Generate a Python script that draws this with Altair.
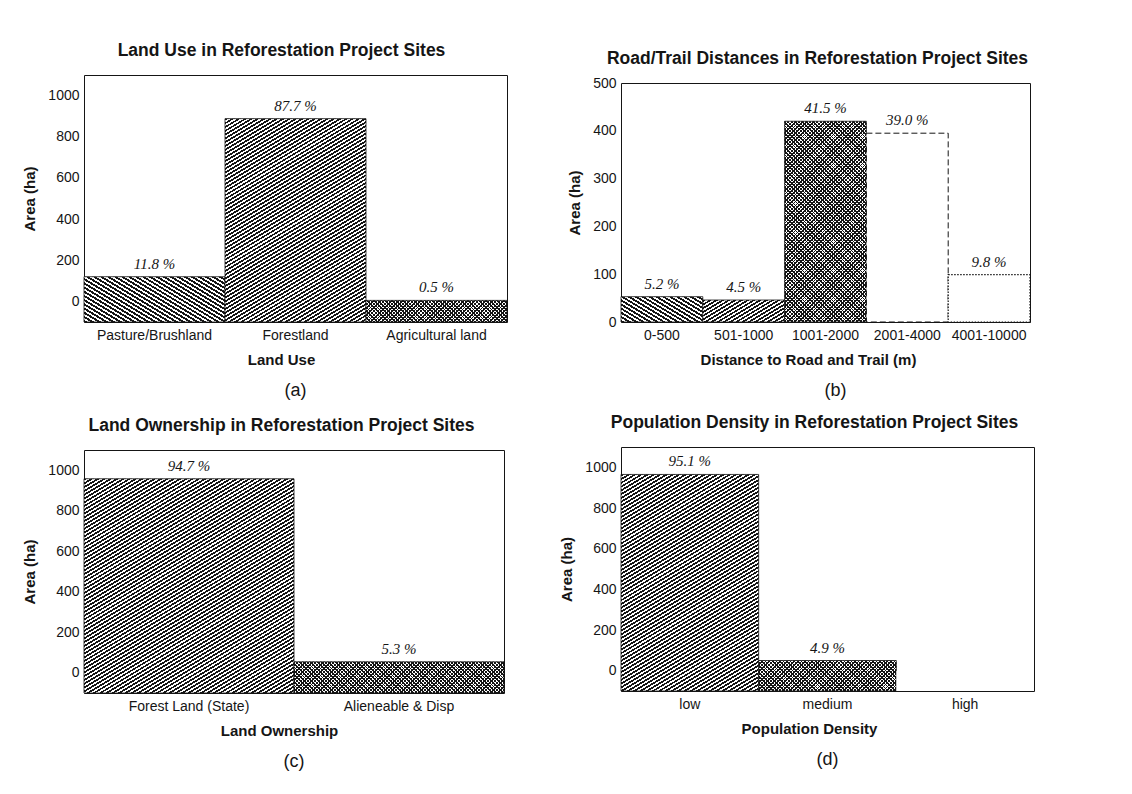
import altair as alt
import pandas as pd

SANS = "Liberation Sans"
SERIF = "Liberation Serif"
INK = "#151515"

# ---------------- data ----------------
a_cats = ["Pasture/Brushland", "Forestland", "Agricultural land"]
a_vals = [120, 888, 5]
a_pcts = ["11.8 %", "87.7 %", "0.5 %"]
a_styles = ["back", "fwd", "cross"]

b_cats = ["0-500", "501-1000", "1001-2000", "2001-4000", "4001-10000"]
b_vals = [53, 46, 420, 395, 99]
b_pcts = ["5.2 %", "4.5 %", "41.5 %", "39.0 %", "9.8 %"]
b_styles = ["back", "fwd", "cross", "dash", "dot"]

c_cats = ["Forest Land (State)", "Alieneable & Disp"]
c_vals = [958, 54]
c_pcts = ["94.7 %", "5.3 %"]
c_styles = ["fwd", "cross"]

d_cats = ["low", "medium", "high"]
d_vals = [965, 50, 0]
d_pcts = ["95.1 %", "4.9 %", ""]
d_styles = ["fwd", "cross", "none"]

ticks_1000 = [0, 200, 400, 600, 800, 1000]
ticks_500 = [0, 100, 200, 300, 400, 500]


def stripes(w, h, direction, pv, frac, m, ink=INK, paper="#ffffff"):
    """Linear gradient with hard stops that looks like a hatch pattern."""
    w = max(w, 1.0)
    h = max(h, 1.0)
    K = m * w + h
    s = K / (m * m * w * w + h * h)
    dx, dy = m * w * s, h * s
    if direction == "fwd":
        x1, y1, x2, y2 = 0, 0, dx, dy
    else:
        x1, y1, x2, y2 = 0, 1, dx, 1 - dy
    n = max(1, round(K / pv))
    stops = []
    for i in range(n):
        o0 = i / n
        o1 = (i + frac) / n
        o2 = (i + 1) / n
        stops += [
            {"offset": round(o0, 6), "color": ink},
            {"offset": round(o1, 6), "color": ink},
            {"offset": round(o1, 6), "color": paper},
            {"offset": round(o2, 6), "color": paper},
        ]
    return {"gradient": "linear", "x1": x1, "y1": y1, "x2": x2, "y2": y2, "stops": stops}


def panel(cats, vals, pcts, styles, W, H, ymin, ymax, yticks, title, title_x,
          xtitle, xtitle_x, tag, tag_dx=0, inset=0):
    """inset > 0: the frame starts `inset` px below the top of the view
    (drawn with axis domain lines instead of the view stroke)."""
    df = pd.DataFrame({"cat": cats, "value": vals, "pct": pcts})
    framed = inset > 0
    xs = alt.Scale(domain=cats, paddingInner=0, paddingOuter=0)
    if framed:
        ys = alt.Scale(domain=[ymin, ymax], nice=False, zero=False, range=[H + inset, inset])
    else:
        ys = alt.Scale(domain=[ymin, ymax], nice=False, zero=False)
    dom = dict(domain=framed, domainColor=INK, domainWidth=1)
    bottom_axis = alt.Axis(
        title=xtitle, labelAngle=0, ticks=False, grid=False,
        labelPadding=6, titlePadding=10, titleX=xtitle_x,
        labelFont=SANS, labelFontSize=14, labelColor=INK,
        titleFont=SANS, titleFontSize=15, titleFontWeight="bold", titleColor=INK, **dom,
    )
    y_axis = alt.Axis(
        title="Area (ha)", values=yticks, format="d", ticks=False, grid=False,
        labelPadding=5, titlePadding=10,
        labelFont=SANS, labelFontSize=14, labelColor=INK,
        titleFont=SANS, titleFontSize=15, titleFontWeight="bold", titleColor=INK, **dom,
    )
    top_axis = alt.Axis(
        orient="top", title=title, labels=False, ticks=False, grid=False,
        titlePadding=16, titleX=title_x, offset=-inset,
        titleFont=SANS, titleFontSize=17.5, titleFontWeight="bold", titleColor=INK, **dom,
    )
    right_axis = alt.Axis(
        orient="right", title=None, labels=False, ticks=False, grid=False, **dom,
    )
    other_y = None if framed else y_axis
    bw = W / len(cats)
    layers = []
    first = True
    for cat, val, sty in zip(cats, vals, styles):
        bh = (val - ymin) / (ymax - ymin) * H
        sub = alt.Chart(df).transform_filter(alt.datum.cat == cat)
        enc = dict(
            x=alt.X("cat:N", scale=xs, axis=bottom_axis if first else None),
            y=alt.Y("value:Q", scale=ys, axis=y_axis if first else other_y),
            y2=alt.datum(ymin),
        )
        first = False
        if sty in ("back", "fwd"):
            m = 0.6
            pv = 4.2 if sty == "back" else 3.8
            mk = sub.mark_bar(fill=stripes(bw, bh, sty, pv, 0.52, m), stroke=INK, strokeWidth=0.8)
            layers.append(mk.encode(**enc))
        elif sty == "cross":
            mk = sub.mark_bar(fill=stripes(bw, bh, "back", 3.6, 0.42, 1.0), strokeWidth=0)
            layers.append(mk.encode(**enc))
            over = alt.Chart(df).transform_filter(alt.datum.cat == cat).mark_bar(
                fill=stripes(bw, bh, "fwd", 3.6, 0.42, 1.0, paper="rgba(255,255,255,0)"),
                stroke=INK, strokeWidth=0.8,
            ).encode(
                x=alt.X("cat:N", scale=xs, axis=None),
                y=alt.Y("value:Q", scale=ys, axis=other_y),
                y2=alt.datum(ymin),
            )
            layers.append(over)
        elif sty == "dash":
            mk = sub.mark_bar(fill="#ffffff", stroke=INK, strokeWidth=1, strokeDash=[6, 3])
            layers.append(mk.encode(**enc))
        elif sty == "dot":
            mk = sub.mark_bar(fill="#ffffff", stroke=INK, strokeWidth=1.2, strokeDash=[1.5, 1.5])
            layers.append(mk.encode(**enc))
        else:
            mk = sub.mark_bar(fill="#ffffff", strokeWidth=0)
            layers.append(mk.encode(**enc))

    text = alt.Chart(df).mark_text(
        font=SERIF, fontStyle="italic", fontSize=15, dy=-8, baseline="alphabetic", color=INK,
    ).encode(
        x=alt.X("cat:N", scale=xs, axis=top_axis),
        y=alt.Y("value:Q", scale=ys, axis=right_axis if framed else y_axis),
        text="pct:N",
    )
    layers.append(text)
    props = dict(
        width=W, height=H + inset,
        title=alt.TitleParams(tag, orient="bottom", anchor="middle", frame="group",
                              font=SANS, fontSize=18, fontWeight="normal", color=INK,
                              offset=15, dx=tag_dx),
    )
    if framed:
        props["view"] = alt.ViewBackground(strokeOpacity=0)
        return alt.layer(*layers).properties(**props).resolve_axis(x="independent", y="independent")
    return alt.layer(*layers).properties(**props).resolve_axis(x="independent")


A = panel(a_cats, a_vals, a_pcts, a_styles, 423, 247, -100, 1100, ticks_1000,
          "Land Use in Reforestation Project Sites", 197, "Land Use", 197, "(a)")
B = panel(b_cats, b_vals, b_pcts, b_styles, 409, 239, 0, 500, ticks_500,
          "Road/Trail Distances in Reforestation Project Sites", 196,
          "Distance to Road and Trail (m)", 187, "(b)", 10, inset=8)
C = panel(c_cats, c_vals, c_pcts, c_styles, 420, 243, -100, 1100, ticks_1000,
          "Land Ownership in Reforestation Project Sites", 197, "Land Ownership", 195, "(c)")
D = panel(d_cats, d_vals, d_pcts, d_styles, 413, 244, -100, 1100, ticks_1000,
          "Population Density in Reforestation Project Sites", 193, "Population Density", 188, "(d)")

left = alt.vconcat(A, C, spacing=14)
right = alt.vconcat(B, D, spacing=12)

chart = alt.hconcat(left, right, spacing=51).properties(
    padding={"left": 14, "top": 32, "right": 5, "bottom": 5},
    background="#ffffff",
).configure_view(stroke=INK, strokeWidth=1)

chart.save("out.html", embed_options={"renderer": "svg", "actions": False})
